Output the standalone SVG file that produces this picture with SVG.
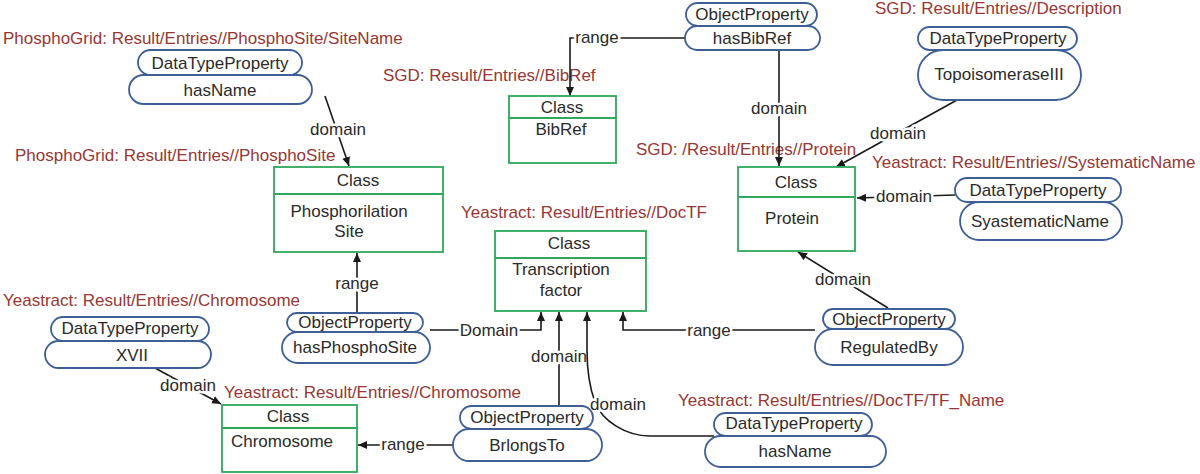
<svg xmlns="http://www.w3.org/2000/svg" width="1200" height="474" viewBox="0 0 1200 474">
<style>
.bg{fill:#fff}
.cls{fill:#fff;stroke:#2ea85a;stroke-width:1.8}
.div{stroke:#2ea85a;stroke-width:1.8}
.pill{fill:#fff;stroke:#3d5f95;stroke-width:1.8}
.nt{font-family:"Liberation Sans",Arial,sans-serif;font-size:17px;fill:#2a2a2a;text-anchor:middle}
.src{font-family:"Liberation Sans",Arial,sans-serif;font-size:17px;fill:#953735}
.edge{fill:none;stroke:#1a1a1a;stroke-width:1.6}
.el{font-family:"Liberation Sans",Arial,sans-serif;font-size:17px;fill:#2a2a2a;text-anchor:middle;stroke:#fff;stroke-width:5;paint-order:stroke;stroke-linejoin:round}
</style>
<defs>
<marker id="arr" markerUnits="userSpaceOnUse" markerWidth="10" markerHeight="10" refX="9" refY="5" orient="auto">
<path d="M0,1 L9,5 L0,9 z" fill="#1a1a1a"/>
</marker>
</defs>
<rect class="bg" x="0" y="0" width="1200" height="474"/>

<g id="source-labels">
<text class="src" x="3" y="44">PhosphoGrid: Result/Entries//PhosphoSite/SiteName</text>
<text class="src" x="15" y="161">PhosphoGrid: Result/Entries//PhosphoSite</text>
<text class="src" x="383" y="81">SGD: Result/Entries//BibRef</text>
<text class="src" x="875" y="14">SGD: Result/Entries//Description</text>
<text class="src" x="636" y="155">SGD: /Result/Entries//Protein</text>
<text class="src" x="872" y="168">Yeastract: Result/Entries//SystematicName</text>
<text class="src" x="461" y="218">Yeastract: Result/Entries//DocTF</text>
<text class="src" x="3" y="306">Yeastract: Result/Entries//Chromosome</text>
<text class="src" x="224" y="398">Yeastract: Result/Entries//Chromosome</text>
<text class="src" x="678" y="406">Yeastract: Result/Entries//DocTF/TF_Name</text>
</g>

<g id="connectors">
<path class="edge" d="M325,96 L349,166" marker-end="url(#arr)"/>
<text class="el" x="338" y="135">domain</text>
<path class="edge" d="M686,38 H570 V96" marker-end="url(#arr)"/>
<text class="el" x="597" y="43">range</text>
<path class="edge" d="M779,50 V166" marker-end="url(#arr)"/>
<text class="el" x="779" y="114">domain</text>
<path class="edge" d="M957,100 L836,167" marker-end="url(#arr)"/>
<text class="el" x="898" y="139">domain</text>
<path class="edge" d="M955,195 L857,198" marker-end="url(#arr)"/>
<text class="el" x="904" y="202">domain</text>
<path class="edge" d="M888,308 L798,252" marker-end="url(#arr)"/>
<text class="el" x="843" y="285">domain</text>
<path class="edge" d="M815,330 H623 V312" marker-end="url(#arr)"/>
<text class="el" x="709" y="336">range</text>
<path class="edge" d="M430,330 H541 V312" marker-end="url(#arr)"/>
<text class="el" x="489" y="336">Domain</text>
<path class="edge" d="M357,313 V253" marker-end="url(#arr)"/>
<text class="el" x="357" y="289">range</text>
<path class="edge" d="M559,406 V312" marker-end="url(#arr)"/>
<text class="el" x="559" y="362">domain</text>
<path class="edge" d="M714,436 H650 C626,436 602,421 595,402 C589,386 587,370 587,350 V312" marker-end="url(#arr)"/>
<text class="el" x="618" y="410">domain</text>
<path class="edge" d="M453,445 H358" marker-end="url(#arr)"/>
<text class="el" x="403" y="450">range</text>
<path class="edge" d="M155,368 L221,404" marker-end="url(#arr)"/>
<text class="el" x="188" y="391">domain</text>
</g>

<g id="class-phosphorilation-site">
<rect class="cls" x="274" y="167" width="169" height="85"/>
<line class="div" x1="274" y1="194" x2="443" y2="194"/>
<text class="nt" x="358" y="186">Class</text>
<text class="nt" x="349" y="217">Phosphorilation</text>
<text class="nt" x="349" y="237">Site</text>
</g>

<g id="class-bibref">
<rect class="cls" x="509" y="96" width="107" height="67"/>
<line class="div" x1="509" y1="118" x2="616" y2="118"/>
<text class="nt" x="562" y="113">Class</text>
<text class="nt" x="561" y="135">BibRef</text>
</g>

<g id="class-protein">
<rect class="cls" x="738" y="167" width="117" height="84"/>
<line class="div" x1="738" y1="197" x2="855" y2="197"/>
<text class="nt" x="796" y="188">Class</text>
<text class="nt" x="792" y="224">Protein</text>
</g>

<g id="class-transcription-factor">
<rect class="cls" x="495" y="231" width="151" height="80"/>
<line class="div" x1="495" y1="258" x2="646" y2="258"/>
<text class="nt" x="569" y="249">Class</text>
<text class="nt" x="561" y="275">Transcription</text>
<text class="nt" x="561" y="296">factor</text>
</g>

<g id="class-chromosome">
<rect class="cls" x="222" y="405" width="135" height="67"/>
<line class="div" x1="222" y1="428" x2="357" y2="428"/>
<text class="nt" x="288" y="422">Class</text>
<text class="nt" x="282" y="447">Chromosome</text>
</g>

<g id="prop-hasname-phospho">
<rect class="pill" x="129" y="75" width="183" height="29" rx="14.5"/>
<rect class="pill" x="138" y="50" width="164" height="25" rx="12.5"/>
<text class="nt" x="220" y="69">DataTypeProperty</text>
<text class="nt" x="220" y="96">hasName</text>
</g>

<g id="prop-hasbibref">
<rect class="pill" x="685" y="26" width="135" height="24" rx="12"/>
<rect class="pill" x="686" y="3" width="131" height="23" rx="11.5"/>
<text class="nt" x="752" y="20">ObjectProperty</text>
<text class="nt" x="752" y="44">hasBibRef</text>
</g>

<g id="prop-topoisomerase">
<rect class="pill" x="918" y="50" width="163" height="50" rx="25"/>
<rect class="pill" x="918" y="27" width="159" height="23" rx="11.5"/>
<text class="nt" x="998" y="44">DataTypeProperty</text>
<text class="nt" x="999" y="80">TopoisomeraseIII</text>
</g>

<g id="prop-systematicname">
<rect class="pill" x="960" y="202" width="162" height="38" rx="19"/>
<rect class="pill" x="955" y="178" width="166" height="24" rx="12"/>
<text class="nt" x="1038" y="196">DataTypeProperty</text>
<text class="nt" x="1040" y="227">SyastematicName</text>
</g>

<g id="prop-xvii">
<rect class="pill" x="45" y="341" width="166" height="27" rx="13.5"/>
<rect class="pill" x="51" y="317" width="158" height="24" rx="12"/>
<text class="nt" x="130" y="334">DataTypeProperty</text>
<text class="nt" x="132" y="361">XVII</text>
</g>

<g id="prop-hasphosphosite">
<rect class="pill" x="282" y="332" width="148" height="31" rx="15.5"/>
<rect class="pill" x="287" y="313" width="136" height="19" rx="9.5"/>
<text class="nt" x="355" y="328">ObjectProperty</text>
<text class="nt" x="355" y="353">hasPhosphoSite</text>
</g>

<g id="prop-brlongsto">
<rect class="pill" x="453" y="429" width="149" height="32" rx="16"/>
<rect class="pill" x="460" y="406" width="133" height="23" rx="11.5"/>
<text class="nt" x="527" y="423">ObjectProperty</text>
<text class="nt" x="527" y="451">BrlongsTo</text>
</g>

<g id="prop-regulatedby">
<rect class="pill" x="815" y="329" width="148" height="36" rx="18"/>
<rect class="pill" x="823" y="309" width="132" height="20" rx="10"/>
<text class="nt" x="889" y="325">ObjectProperty</text>
<text class="nt" x="889" y="353">RegulatedBy</text>
</g>

<g id="prop-hasname-tf">
<rect class="pill" x="705" y="436" width="181" height="31" rx="15.5"/>
<rect class="pill" x="714" y="413" width="158" height="23" rx="11.5"/>
<text class="nt" x="794" y="429">DataTypeProperty</text>
<text class="nt" x="795" y="457">hasName</text>
</g>
</svg>
